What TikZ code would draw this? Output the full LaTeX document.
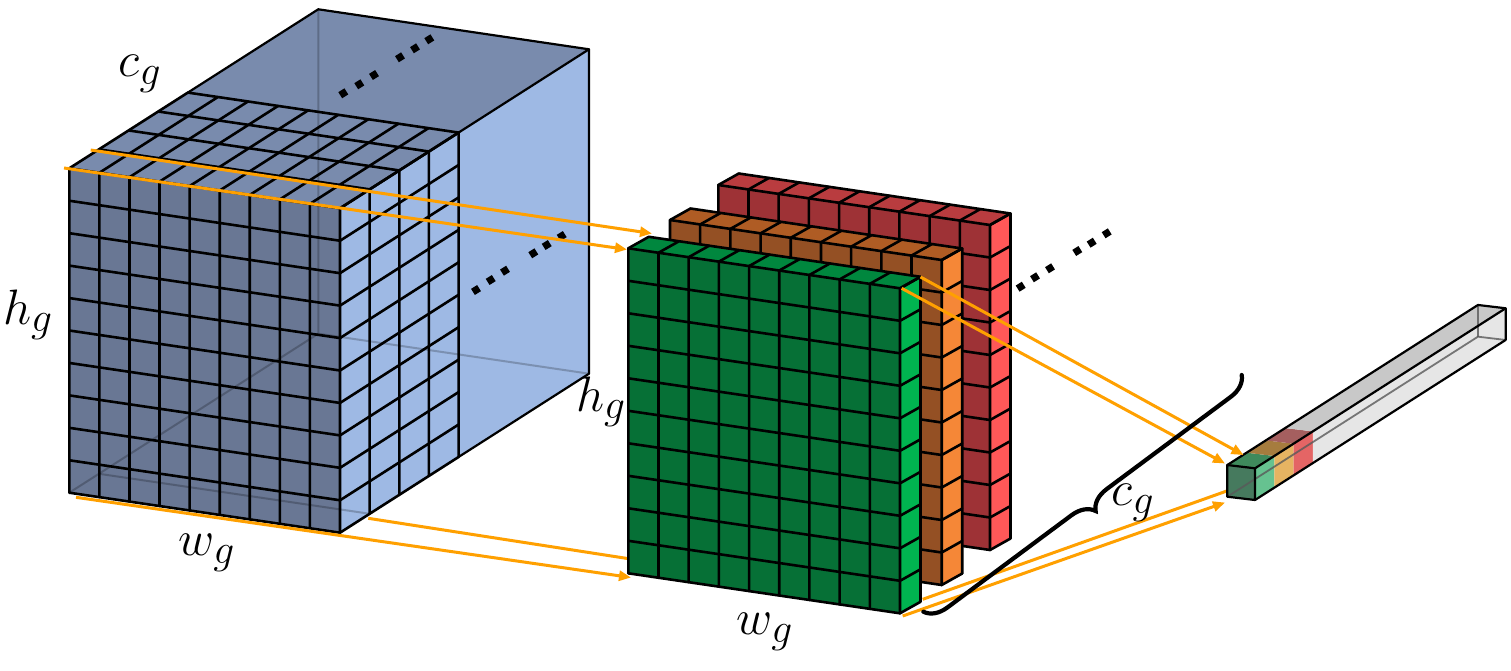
\documentclass[tikz,border=0pt]{standalone}
\usetikzlibrary{arrows.meta,decorations.pathreplacing}
\definecolor{cubefront}{RGB}{105,119,148}
\definecolor{cubetop}{RGB}{121,139,173}
\definecolor{cubeside}{RGB}{158,185,228}
\definecolor{gfront}{RGB}{6,112,54}
\definecolor{gtop}{RGB}{0,135,62}
\definecolor{gside}{RGB}{0,180,80}
\definecolor{ofront}{RGB}{148,80,36}
\definecolor{otop}{RGB}{175,92,36}
\definecolor{oside}{RGB}{245,135,55}
\definecolor{rfront}{RGB}{158,50,54}
\definecolor{rtop}{RGB}{185,60,63}
\definecolor{rside}{RGB}{255,88,88}
\definecolor{arrorange}{RGB}{255,160,0}
\definecolor{colfront}{RGB}{70,122,94}
\definecolor{colgside}{RGB}{102,194,144}
\definecolor{colgtop}{RGB}{63,138,92}
\definecolor{coloside}{RGB}{230,180,98}
\definecolor{colotop}{RGB}{166,124,62}
\definecolor{colrside}{RGB}{228,101,101}
\definecolor{colrtop}{RGB}{165,95,95}
\definecolor{colgreyside}{RGB}{230,230,230}
\definecolor{colgreytop}{RGB}{200,200,200}
\newcommand\drawslab[4]{%
\begin{scope}[shift={#1}, slabsys]
  \fill[#2] (0,0,0) -- (9,0,0) -- (9,10,0) -- (0,10,0) -- cycle;
  \fill[#3] (0,0,0) -- (9,0,0) -- (9,0,1) -- (0,0,1) -- cycle;
  \fill[#4] (9,0,0) -- (9,0,1) -- (9,10,1) -- (9,10,0) -- cycle;
  \foreach \i in {0,...,9} {\draw[gridln] (\i,0,1) -- (\i,0,0) -- (\i,10,0);}
  \foreach \j in {0,...,10} {\draw[gridln] (0,\j,0) -- (9,\j,0) -- (9,\j,1);}
  \draw[gridln] (0,0,1) -- (9,0,1) -- (9,10,1);
\end{scope}}
\begin{document}
\begin{tikzpicture}[x=0.5pt,y=-0.5pt,
  gridln/.style={line width=1.3pt, line cap=round, line join=round},
  boxln/.style={line width=1.1pt, line join=round, line cap=round},
  hid/.style={line width=1pt, black, opacity=0.22},
  colhid/.style={line width=0.9pt, black!65, opacity=0.8},
  oline/.style={draw=arrorange, line width=1.5pt},
  oarr/.style={oline, -{Triangle[length=6pt,width=5pt]}},
  dotsq/.style={fill=black, minimum size=3.6pt, inner sep=0pt, rotate=32},
  lbl/.style={font=\fontsize{24.88}{30}\selectfont, inner sep=0pt},
  bigcube/.style={shift={(34.65pt,-84.15pt)}, x={(15.04pt,-2.222pt)}, y={(0pt,-16.22pt)}, z={(14.82pt,9.465pt)}},
  slabsys/.style={x={(15.095pt,-2.222pt)}, y={(0pt,-16.25pt)}, z={(10.25pt,5.75pt)}},
  colsys/.style={shift={(613.65pt,-232.5pt)}, x={(13.85pt,-1.65pt)}, y={(0pt,-15.85pt)}, z={(9.64pt,6.155pt)}}
]
\fill[white] (0,0) rectangle (1511,670);
\useasboundingbox (0,0) rectangle (1511,670);

% big cube
\begin{scope}[bigcube]
 \fill[cubetop] (0,0,0) -- (9,0,0) -- (9,0,8.4) -- (0,0,8.4) -- cycle;
 \fill[cubeside] (9,0,0) -- (9,0,8.4) -- (9,10,8.4) -- (9,10,0) -- cycle;
 \fill[cubefront] (0,0,0) -- (9,0,0) -- (9,10,0) -- (0,10,0) -- cycle;
 \foreach \i in {0,...,9} {\draw[gridln] (\i,0,4) -- (\i,0,0) -- (\i,10,0);}
 \foreach \j in {0,...,10} {\draw[gridln] (0,\j,0) -- (9,\j,0) -- (9,\j,4);}
 \foreach \k in {1,...,4} {\draw[gridln] (0,0,\k) -- (9,0,\k) -- (9,10,\k);}
 \draw[boxln] (0,0,4) -- (0,0,8.4) -- (9,0,8.4) -- (9,10,8.4) -- (9,10,4);
 \draw[boxln] (9,0,4) -- (9,0,8.4);
 \draw[hid] (0,0,8.4) -- (0,10,8.4) -- (9,10,8.4);
 \draw[hid] (0,10,0) -- (0,10,8.4);
 \draw[hid] (0,10,1) -- (9,10,1);
\end{scope}

% connector coordinates
\coordinate (a1s) at (64,168);      \coordinate (a1e) at (627,249.5);
\coordinate (a2s) at (90.7,150);    \coordinate (a2e) at (652,233.5);
\coordinate (a3s) at (76,497.3);    \coordinate (a3e) at (631,577.5);
\coordinate (a4s) at (368.3,518.3); \coordinate (a4e) at (648.8,561.8);
\coordinate (b1s) at (901.7,288.3); \coordinate (b1e) at (1225,463.5);
\coordinate (b2s) at (920.5,277);   \coordinate (b2e) at (1243.5,455);
\coordinate (b3s) at (902.7,616);   \coordinate (b3e) at (1225,502.5);
\coordinate (b4s) at (922.7,599.3); \coordinate (b4e) at (1245,484.5);
\coordinate (brA) at (1241.7,375);  \coordinate (brB) at (923.3,611.7);

\draw[oarr] (a4s) -- (a4e);

% slabs
\drawslab{(359.15pt,-92.5pt)}{rfront}{rtop}{rside}
\drawslab{(335pt,-110pt)}{ofront}{otop}{oside}
\drawslab{(314.15pt,-124.15pt)}{gfront}{gtop}{gside}

% dots
\foreach \p [count=\n] in {(343.3,93.3),(359.3,84.3),(374,75),(400,57.3),(415,48.3),(429.3,39.3),
  (476,290),(490.7,280),(505,270.7),(533.3,253.3),(546.7,245),(561.7,236),
  (1020.7,286.7),(1035,277.3),(1050,268.3),(1077.3,251),(1091.7,242.7),(1106.7,233.3)}
  {\node[dotsq] (dot\n) at \p {};}

\draw[oarr] (b4s) -- (b4e);

% column
\begin{scope}[colsys]
 \fill[colgside] (1,0,0) -- (1,0,1) -- (1,1,1) -- (1,1,0) -- cycle;
 \fill[coloside] (1,0,1) -- (1,0,2) -- (1,1,2) -- (1,1,1) -- cycle;
 \fill[colrside] (1,0,2) -- (1,0,3) -- (1,1,3) -- (1,1,2) -- cycle;
 \fill[colgreyside] (1,0,3) -- (1,0,13) -- (1,1,13) -- (1,1,3) -- cycle;
 \fill[colgtop] (0,0,0) -- (1,0,0) -- (1,0,1) -- (0,0,1) -- cycle;
 \fill[colotop] (0,0,1) -- (1,0,1) -- (1,0,2) -- (0,0,2) -- cycle;
 \fill[colrtop] (0,0,2) -- (1,0,2) -- (1,0,3) -- (0,0,3) -- cycle;
 \fill[colgreytop] (0,0,3) -- (1,0,3) -- (1,0,13) -- (0,0,13) -- cycle;
 \fill[colfront] (0,0,0) -- (1,0,0) -- (1,1,0) -- (0,1,0) -- cycle;
 \draw[colhid] (0,1,0) -- (0,1,13) -- (1,1,13);
 \draw[colhid] (0,0,13) -- (0,1,13);
 \draw[boxln] (0,0,0) -- (1,0,0) -- (1,1,0) -- (0,1,0) -- cycle;
 \draw[boxln] (0,0,0) -- (0,0,13) -- (1,0,13) -- (1,0,0);
 \draw[boxln] (1,0,13) -- (1,1,13) -- (1,1,0);
\end{scope}

% arrows on top
\draw[oarr] (a1s) -- (a1e);
\draw[oarr] (a2s) -- (a2e);
\draw[oarr] (a3s) -- (a3e);
\draw[oarr] (b1s) -- (b1e);
\draw[oarr] (b2s) -- (b2e);
\draw[oarr] (b3s) -- (b3e);

% brace
\draw[decorate, decoration={brace, amplitude=11pt}, line width=2.1pt, line cap=round] (brA) -- (brB);

% labels
\node[lbl] (cgTop) at (140,74) {$c_g$};
\node[lbl] (hgLeft) at (28,315) {$h_g$};
\node[lbl] (hgRight) at (601,402) {$h_g$};
\node[lbl] (wgLeft) at (207,553) {$w_g$};
\node[lbl] (wgRight) at (765,632) {$w_g$};
\node[lbl] (cgRight) at (1133,503) {$c_g$};
\end{tikzpicture}
\end{document}
